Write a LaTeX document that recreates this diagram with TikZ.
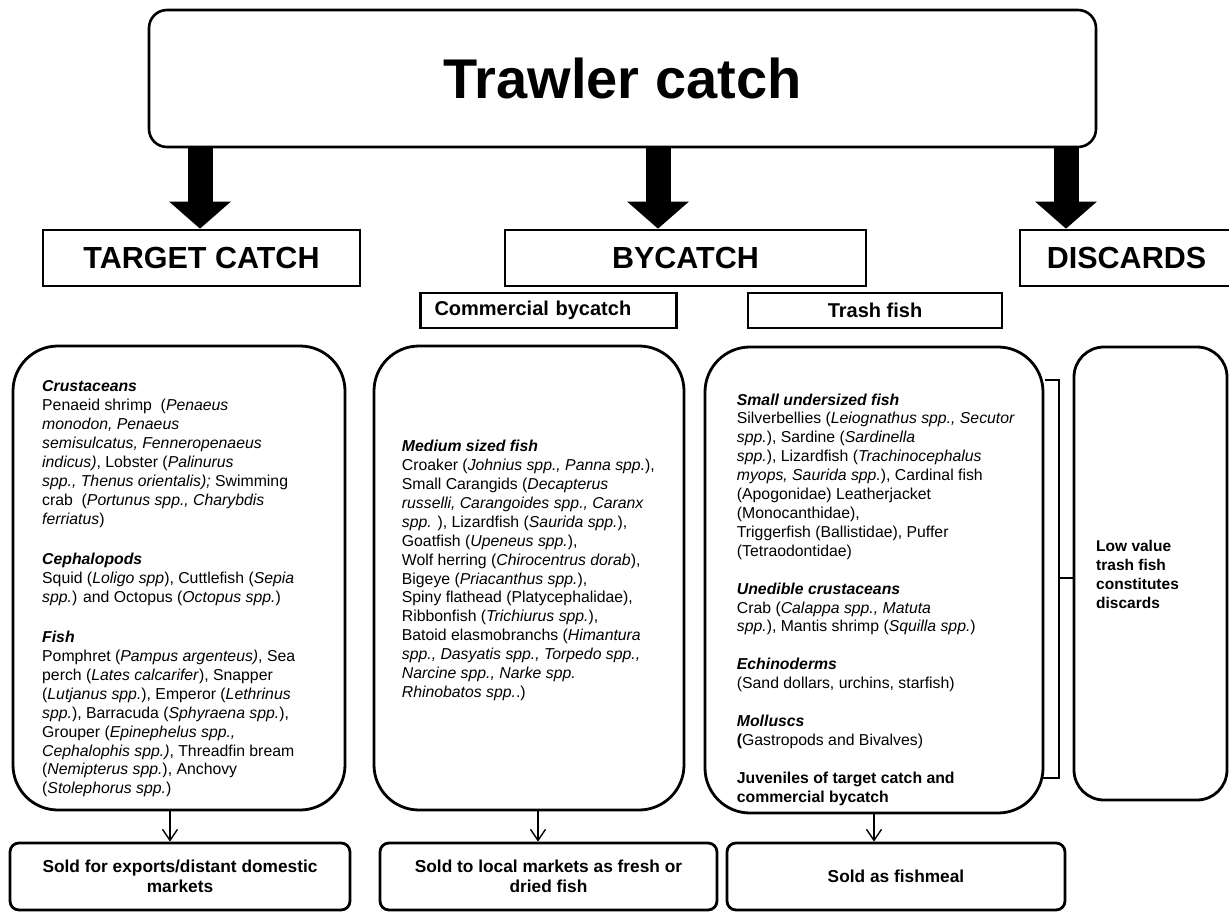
\documentclass[tikz,border=0pt]{standalone}
\usepackage{fontspec}
\setmainfont{Liberation Sans}
\usetikzlibrary{arrows.meta}

\begin{document}
\begin{tikzpicture}[x=1pt, y=-1pt,
  catbox/.style={draw, line width=2.6pt, inner sep=0pt, minimum height=56pt,
    font=\bfseries\fontsize{30.5}{34}\selectfont},
  subbox/.style={draw, line width=2.4pt, inner sep=0pt, minimum height=35pt,
    font=\bfseries\fontsize{20}{24}\selectfont},
  listbox/.style={draw, line width=2.8pt, rounded corners=#1, inner sep=0pt},
  soldbox/.style={draw, line width=2.8pt, rounded corners=9pt, inner sep=0pt,
    minimum height=67pt, align=center, font=\bfseries\fontsize{17.3}{20}\selectfont},
  txt/.style={anchor=base west, inner sep=0pt, font=\fontsize{15.8}{18.9}\selectfont},
  bigarr/.style={line width=25pt, -{Triangle[length=27pt, width=60pt]}},
  arr/.style={line width=1.4pt, -{Straight Barb[length=11pt, width=15pt]}},
  brk/.style={line width=2.6pt}
]
\useasboundingbox (0,0) rectangle (1229,913);

\node[draw, line width=2.6pt, rounded corners=18pt, minimum width=947pt, minimum height=137pt,
  font=\bfseries\fontsize{56}{60}\selectfont] (trawl) at (622.5,78.5) {Trawler catch};

\node[catbox, minimum width=317pt] (target)   at (201.5,258) {TARGET CATCH};
\node[catbox, minimum width=361pt] (bycatch)  at (685.5,258) {BYCATCH};
\node[catbox, minimum width=213pt] (discards) at (1126.5,258) {DISCARDS};
\node[subbox, text width=228pt, inner xsep=14pt, align=left] (combyc) at (548.5,310.5) {Commercial bycatch};
\node[subbox, minimum width=254pt] (trash) at (875,310.5) {Trash fish};

% thick arrows
\coordinate (tgtx) at (200,0);
\coordinate (byx)  at (658,0);
\coordinate (disx) at (1066,0);
\draw[bigarr] (trawl.south -| tgtx) -- (target.north -| tgtx);
\draw[bigarr] (trawl.south -| byx)  -- (bycatch.north -| byx);
\draw[bigarr] (trawl.south -| disx) -- (discards.north -| disx);

% lists
\node[listbox=45pt, minimum width=332pt, minimum height=464pt] (tgtbox) at (179,578) {};
\node[listbox=45pt, minimum width=310pt, minimum height=464pt] (combox) at (529,578) {};
\node[listbox=45pt, minimum width=338pt, minimum height=466pt] (trbox)  at (874,580) {};
\node[listbox=30pt, minimum width=153pt, minimum height=453pt] (discbox) at (1150.5,573.5) {};

\node[txt] (tgttxt) at (42,391.7) {\parbox[t]{290pt}{\raggedright
\textbf{\textit{Crustaceans}}\\
Penaeid shrimp~ (\textit{Penaeus}\\
\textit{monodon, Penaeus}\\
\textit{semisulcatus, Fenneropenaeus}\\
\textit{indicus)}, Lobster (\textit{Palinurus}\\
\textit{spp., Thenus orientalis); }Swimming\\
crab~ (\textit{Portunus spp., Charybdis}\\
\textit{ferriatus})\\[21.5pt]
\textbf{\textit{Cephalopods}}\\
Squid (\textit{Loligo spp}), Cuttlefish (\textit{Sepia}\\
\textit{spp.}) and Octopus (\textit{Octopus spp.})\\[21.5pt]
\textbf{\textit{Fish}}\\
Pomphret (\textit{Pampus argenteus)}, Sea\\
perch (\textit{Lates calcarifer}), Snapper\\
(\textit{Lutjanus spp.}), Emperor (\textit{Lethrinus}\\
\textit{spp.}), Barracuda (\textit{Sphyraena spp.}),\\
Grouper (\textit{Epinephelus spp.,}\\
\textit{Cephalophis spp.)}, Threadfin bream\\
(\textit{Nemipterus spp.}), Anchovy\\
(\textit{Stolephorus spp.})}};

\node[txt] (comtxt) at (401.7,451.7) {\parbox[t]{280pt}{\raggedright
\textbf{\textit{Medium sized fish}}\\
Croaker (\textit{Johnius spp., Panna spp.}),\\
Small Carangids (\textit{Decapterus}\\
\textit{russelli, Carangoides spp., Caranx}\\
\textit{spp.} ), Lizardfish (\textit{Saurida spp.}),\\
Goatfish (\textit{Upeneus spp.}),\\
Wolf herring (\textit{Chirocentrus dorab}),\\
Bigeye (\textit{Priacanthus spp.}),\\
Spiny flathead (Platycephalidae),\\
Ribbonfish (\textit{Trichiurus spp.}),\\
Batoid elasmobranchs (\textit{Himantura}\\
\textit{spp., Dasyatis spp., Torpedo spp.,}\\
\textit{Narcine spp., Narke spp.}\\
\textit{Rhinobatos spp.}.)}};

\node[txt] (trtxt) at (736.7,405) {\parbox[t]{300pt}{\raggedright
\textbf{\textit{Small undersized fish}}\\
Silverbellies (\textit{Leiognathus spp., Secutor}\\
\textit{spp.}), Sardine (\textit{Sardinella}\\
\textit{spp.}), Lizardfish (\textit{Trachinocephalus}\\
\textit{myops, Saurida spp.}), Cardinal fish\\
(Apogonidae) Leatherjacket\\
(Monocanthidae),\\
Triggerfish (Ballistidae), Puffer\\
(Tetraodontidae)\\[19pt]
\textbf{\textit{Unedible crustaceans}}\\
Crab (\textit{Calappa spp., Matuta}\\
\textit{spp.}), Mantis shrimp (\textit{Squilla spp.})\\[19pt]
\textbf{\textit{Echinoderms}}\\
(Sand dollars, urchins, starfish)\\[19pt]
\textbf{\textit{Molluscs}}\\
\textbf{(}Gastropods and Bivalves)\\[19pt]
\textbf{Juveniles of target catch and}\\
\textbf{commercial bycatch}}};

\node[txt, font=\bfseries\fontsize{15.5}{18.8}\selectfont] (disctxt) at (1096,551.7)
  {\parbox[t]{120pt}{\raggedright Low value\\ trash fish\\ constitutes\\ discards}};

% bracket
\coordinate (brtop) at (1045,380);
\coordinate (brmid) at (1059,578);
\coordinate (brbot) at (1043,778);
\draw[brk] (brtop) -| (brmid) |- (brbot);
\draw[brk] (brmid) -- (brmid -| discbox.west);

% outlets
\node[soldbox, minimum width=340pt] (tgtsold) at (180,876.5) {Sold for exports/distant domestic\\markets};
\node[soldbox, minimum width=337pt] (comsold) at (548.5,876.5) {Sold to local markets as fresh or\\dried fish};
\node[soldbox, minimum width=338pt] (trsold)  at (896,876.5) {Sold as fishmeal};

\coordinate (tgtdown) at (170,0);
\coordinate (comdown) at (538,0);
\coordinate (trdown)  at (874,0);
\draw[arr] (tgtbox.south -| tgtdown) -- (tgtsold.north -| tgtdown);
\draw[arr] (combox.south -| comdown) -- (comsold.north -| comdown);
\draw[arr] (trbox.south -| trdown)   -- (trsold.north -| trdown);
\end{tikzpicture}
\end{document}
